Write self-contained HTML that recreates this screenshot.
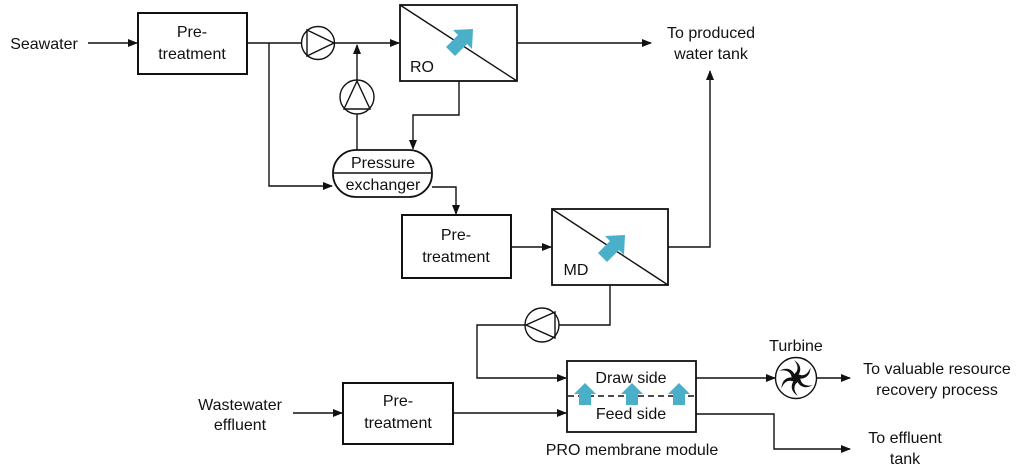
<!DOCTYPE html>
<html><head><meta charset="utf-8"><style>
html,body{margin:0;padding:0;background:#fff;}
svg{display:block;}
text{font-family:"Liberation Sans",sans-serif;font-size:16px;fill:#111;text-anchor:middle;}
</style></head><body>
<svg width="1024" height="474" viewBox="0 0 1024 474" xmlns="http://www.w3.org/2000/svg">
<defs>
<marker id="a" markerWidth="10" markerHeight="8" refX="9" refY="4" orient="auto" markerUnits="userSpaceOnUse">
<path d="M0,0 L10,4 L0,8 z" fill="#111"/></marker>
</defs>
<g stroke="#111" stroke-width="1.4" fill="none">
<line x1="88" y1="43" x2="137" y2="43" marker-end="url(#a)"/>
<rect x="138" y="13" width="109" height="61" stroke-width="2"/>
<line x1="247" y1="43" x2="302" y2="43"/>
<circle cx="318" cy="43" r="16.5"/>
<path d="M307,30 L334,43 L307,56 z"/>
<line x1="334.5" y1="43" x2="399" y2="43" marker-end="url(#a)"/>
<rect x="400" y="5" width="117" height="76" stroke-width="1.8"/>
<line x1="400" y1="5" x2="517" y2="81"/>
<line x1="517" y1="43" x2="651" y2="43" marker-end="url(#a)"/>
<line x1="357" y1="150" x2="357" y2="114"/>
<circle cx="357" cy="97" r="17"/>
<path d="M344,109 L357,81 L370,109 z"/>
<line x1="357" y1="80" x2="357" y2="45" marker-end="url(#a)"/>
<polyline points="459,81 459,115 413,115 413,149" marker-end="url(#a)"/>
<polyline points="269,43 269,186 332,186" marker-end="url(#a)"/>
<rect x="333" y="150" width="99" height="47" rx="23" stroke-width="1.8"/>
<line x1="334" y1="173" x2="431" y2="173"/>
<polyline points="432,187 456,187 456,214" marker-end="url(#a)"/>
<rect x="402" y="215" width="109" height="63" stroke-width="2"/>
<line x1="511" y1="247" x2="551" y2="247" marker-end="url(#a)"/>
<rect x="552" y="209" width="116" height="76" stroke-width="1.8"/>
<line x1="552" y1="209" x2="668" y2="285"/>
<polyline points="668,247 710,247 710,71" marker-end="url(#a)"/>
<polyline points="610,285 610,325 559,325"/>
<circle cx="542" cy="325" r="17"/>
<path d="M555,312 L526,325 L555,338 z"/>
<polyline points="525,325 477,325 477,378 566,378" marker-end="url(#a)"/>
<line x1="293" y1="413" x2="342" y2="413" marker-end="url(#a)"/>
<rect x="343" y="383" width="110" height="61" stroke-width="2"/>
<line x1="453" y1="413" x2="566" y2="413" marker-end="url(#a)"/>
<rect x="567" y="361" width="129" height="71" stroke-width="1.8"/>
<line x1="568" y1="396" x2="695" y2="396" stroke-dasharray="6,4" stroke-width="1.6"/>
<line x1="696" y1="378" x2="775" y2="378" marker-end="url(#a)"/>
<circle cx="796" cy="378" r="20.5"/>
<line x1="816" y1="378" x2="850" y2="378" marker-end="url(#a)"/>
<polyline points="696,414 774,414 774,449 850,449" marker-end="url(#a)"/>
</g>
<g fill="#111">
<g transform="translate(796,378)">
<path id="bl" d="M0,0 C6,-6 6,-13 -2,-18 C4,-11 2,-5 -5,-2 z"/>
<use href="#bl" transform="rotate(60)"/>
<use href="#bl" transform="rotate(120)"/>
<use href="#bl" transform="rotate(180)"/>
<use href="#bl" transform="rotate(240)"/>
<use href="#bl" transform="rotate(300)"/>
</g>
</g>
<g fill="#4aafc8">
<path d="M446,47 L458,35 L453,30 L473,29 L472,49 L467,44 L455,56 z"/>
<path d="M598,253 L610,241 L605,236 L625,235 L624,255 L619,250 L607,262 z"/>
<path d="M579,405 L579,394 L574,394 L585,383 L596,394 L591,394 L591,405 z"/>
<path d="M626,405 L626,394 L621,394 L632,383 L643,394 L638,394 L638,405 z"/>
<path d="M673,405 L673,394 L668,394 L679,383 L690,394 L685,394 L685,405 z"/>
</g>
<text x="44" y="49">Seawater</text>
<text x="192" y="37">Pre-</text>
<text x="192" y="59">treatment</text>
<text x="422" y="72">RO</text>
<text x="711" y="38">To produced</text>
<text x="711" y="59">water tank</text>
<text x="383" y="168">Pressure</text>
<text x="383" y="190">exchanger</text>
<text x="456" y="240">Pre-</text>
<text x="456" y="262">treatment</text>
<text x="576" y="275">MD</text>
<text x="398" y="406">Pre-</text>
<text x="398" y="428">treatment</text>
<text x="240" y="410">Wastewater</text>
<text x="240" y="430">effluent</text>
<text x="631" y="383">Draw side</text>
<text x="631" y="419">Feed side</text>
<text x="632" y="455">PRO membrane module</text>
<text x="796" y="351">Turbine</text>
<text x="937" y="374">To valuable resource</text>
<text x="937" y="395">recovery process</text>
<text x="905" y="443">To effluent</text>
<text x="905" y="464">tank</text>
</svg>
</body></html>
